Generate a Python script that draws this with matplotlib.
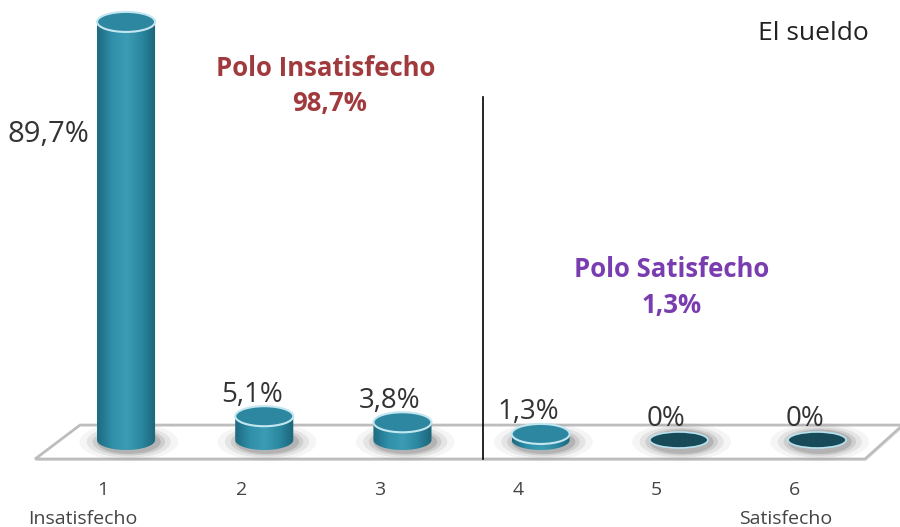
import numpy as np
import matplotlib.pyplot as plt
from matplotlib.patches import Ellipse, Polygon
from matplotlib.path import Path
from matplotlib.colors import LinearSegmentedColormap

plt.rcParams['font.family'] = ['Open Sans', 'DejaVu Sans']

# data
categories = ['1', '2', '3', '4', '5', '6']
values = [89.7, 5.1, 3.8, 1.3, 0.0, 0.0]
value_labels = ['89,7%', '5,1%', '3,8%', '1,3%', '0%', '0%']
end_labels = {0: 'Insatisfecho', 5: 'Satisfecho'}
pole_left = ['Polo Insatisfecho', '98,7%']
pole_right = ['Polo Satisfecho', '1,3%']
title = 'El sueldo'

fig = plt.figure(figsize=(9, 5.27), dpi=100)
ax = fig.add_axes([0, 0, 1, 1])
ax.set_xlim(0.088, 6.60)
ax.set_ylim(-18.67, 94.4)
ax.axis('off')

x = np.arange(1, len(values) + 1)
bw = 0.42        # bar width (x units)
eh = 4.3         # ellipse height (y units)

# floor
ax.add_patch(Polygon([[0.35, -4.5], [0.675, 2.8], [6.63, 2.8], [6.355, -4.5]],
                     closed=True, facecolor='#cccccc', edgecolor='none', alpha=0.5, zorder=0))
floor = Polygon([[0.342, -4.08], [0.667, 3.2], [6.62, 3.2], [6.347, -4.08]],
                closed=True, facecolor='white', edgecolor='#bdbdbd', lw=2.0, zorder=1)
ax.add_patch(floor)

cmap = LinearSegmentedColormap.from_list('cyl', ['#1d6a80', '#2f8ea8', '#3d9cb5', '#2b88a1', '#1b6478'])
grad = np.linspace(0, 1, 200).reshape(1, -1)

for xi, v in zip(x, values):
    # shadow
    for k, a in zip([1.7, 1.45, 1.25, 1.1], [0.06, 0.1, 0.15, 0.22]):
        ax.add_patch(Ellipse((xi + 0.02, -0.4), bw * k, eh * 1.1 * k,
                             facecolor='#555555', edgecolor='none', alpha=a, zorder=2))
    if v > 0:
        t = np.linspace(np.pi, 2 * np.pi, 40)
        bottom = np.column_stack([xi + bw / 2 * np.cos(t), eh / 2 * np.sin(t)])
        verts = np.vstack([[[xi - bw / 2, v]], bottom, [[xi + bw / 2, v]], [[xi - bw / 2, v]]])
        path = Path(verts)
        im = ax.imshow(grad, cmap=cmap, extent=[xi - bw / 2, xi + bw / 2, -eh / 2, v],
                       aspect='auto', zorder=3, interpolation='bilinear')
        im.set_clip_path(path, transform=ax.transData)
        ax.add_patch(Ellipse((xi, v), bw, eh, facecolor='#2d87a0',
                             edgecolor='#c3e6f0', lw=1.5, zorder=4))
    else:
        ax.add_patch(Ellipse((xi, v), bw, eh * 0.8, facecolor='#174b5a',
                             edgecolor='#b8e3ef', lw=1.2, zorder=4))

# value labels
for i, (xi, v, lab) in enumerate(zip(x, values, value_labels)):
    if i == 0:
        ax.text(0.44, 65.5, lab, ha='center', va='center', fontsize=21, color='#333333')
    else:
        ax.text(xi - 0.09, v + 4.6, lab, ha='center', va='center', fontsize=20,
                color='#333333', zorder=5)

# category labels
for i, (xi, c) in enumerate(zip(x, categories)):
    ax.text(xi - 0.166, -10.8, c, ha='center', va='center', fontsize=14, color='#444444')
    if i in end_labels:
        ax.text(xi - 0.166 - (0.15 if i == 0 else 0.06), -16.9, end_labels[i],
                ha='center', va='center', fontsize=14, color='#444444')

# separator
ax.plot([3.583, 3.583], [-4.08, 73.6], color='black', lw=1.2, zorder=5)

# pole annotations
ax.text(2.447, 79.8, pole_left[0], ha='center', va='center', fontsize=18.5,
        fontweight='bold', color='#a03a3d')
ax.text(2.47, 72.3, pole_left[1], ha='center', va='center', fontsize=18.5,
        fontweight='bold', color='#a03a3d')
ax.text(4.95, 36.5, pole_right[0], ha='center', va='center', fontsize=18.5,
        fontweight='bold', color='#7a3db0')
ax.text(4.95, 28.8, pole_right[1], ha='center', va='center', fontsize=18.5,
        fontweight='bold', color='#7a3db0')

ax.text(5.97, 87.2, title, ha='center', va='center', fontsize=19, color='#222222')

fig.savefig('out.png', dpi=100)
